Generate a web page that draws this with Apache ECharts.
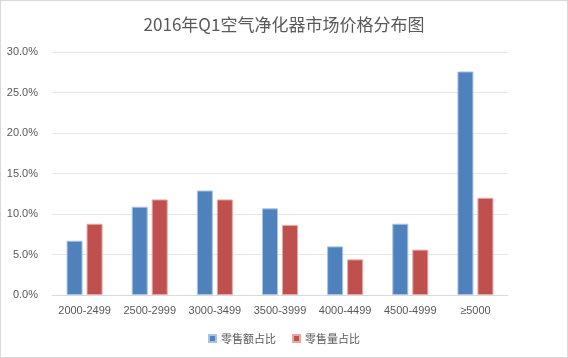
<!DOCTYPE html>
<html><head><meta charset="utf-8">
<script src="https://cdn.jsdelivr.net/npm/echarts@6/dist/echarts.min.js"></script>
<style>html,body{margin:0;padding:0;background:#fff}#c{width:568px;height:358px;box-sizing:border-box;border:1px solid #d9d9d9}</style>
</head><body><div id="c"></div>
<script>
const categories = ['2000-2499','2500-2999','3000-3499','3500-3999','4000-4499','4500-4999','≥5000'];
const salesValueShare = [6.7, 10.9, 12.9, 10.7, 6.0, 8.8, 27.6];
const salesVolumeShare = [8.8, 11.8, 11.8, 8.65, 4.4, 5.6, 12.0];
const seriesNames = ['零售额占比', '零售量占比'];
const font = '"Noto Sans CJK SC", "Liberation Sans", sans-serif';
const latin = '"Liberation Sans", "Noto Sans CJK SC", sans-serif';
const chart = echarts.init(document.getElementById('c'));
chart.setOption({
  animation: false,
  title: { text: '2016年Q1空气净化器市场价格分布图', left: 'center', top: 10,
    textStyle: { fontFamily: font, fontSize: 17, fontWeight: 'normal', color: '#595959' } },
  legend: { bottom: 8, left: 'center', itemWidth: 7, itemHeight: 7, itemGap: 16,
    icon: 'rect', textStyle: { fontFamily: font, fontSize: 11, color: '#595959' } },
  grid: { left: 51, right: 59, top: 51, bottom: 62, containLabel: false },
  xAxis: { type: 'category', data: categories,
    axisLine: { lineStyle: { color: '#d9d9d9' } }, axisTick: { show: false },
    axisLabel: { interval: 0, fontFamily: latin, fontSize: 11, color: '#595959', margin: 10 } },
  yAxis: { type: 'value', min: 0, max: 30, interval: 5,
    axisLabel: { formatter: v => v.toFixed(1) + '%', fontFamily: latin, fontSize: 11, color: '#595959', margin: 14 },
    splitLine: { lineStyle: { color: '#e6e6e6' } }, axisLine: { show: false } },
  series: [
    { name: seriesNames[0], type: 'bar', data: salesValueShare, barWidth: 16, barGap: '25%',
      itemStyle: { color: '#4f81bd', borderColor: '#a9c3e3', borderWidth: 1 } },
    { name: seriesNames[1], type: 'bar', data: salesVolumeShare, barWidth: 16,
      itemStyle: { color: '#c0504d', borderColor: '#e3a9a7', borderWidth: 1 } }
  ]
});
</script></body></html>
